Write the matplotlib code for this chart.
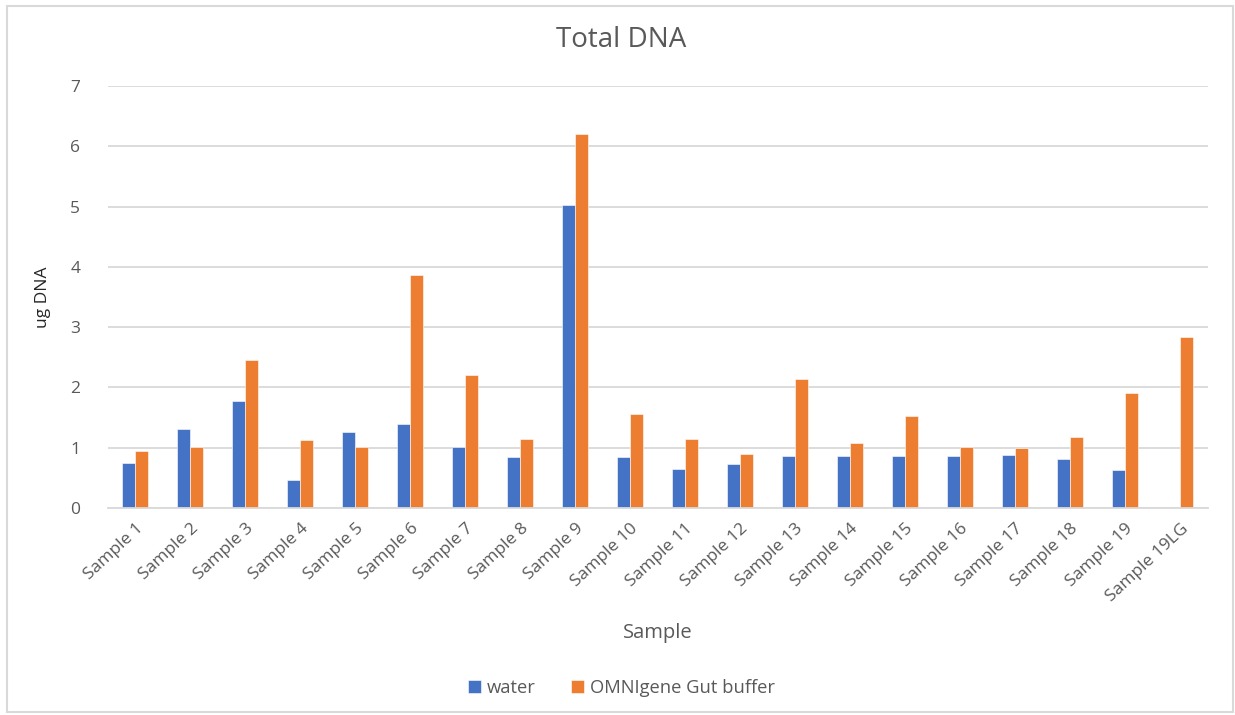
import numpy as np
import matplotlib.pyplot as plt
from matplotlib.patches import Rectangle

plt.rcParams['font.family'] = ['Open Sans', 'DejaVu Sans']

samples = ['Sample 1', 'Sample 2', 'Sample 3', 'Sample 4', 'Sample 5',
           'Sample 6', 'Sample 7', 'Sample 8', 'Sample 9', 'Sample 10',
           'Sample 11', 'Sample 12', 'Sample 13', 'Sample 14', 'Sample 15',
           'Sample 16', 'Sample 17', 'Sample 18', 'Sample 19', 'Sample 19LG']
water = [0.75, 1.31, 1.78, 0.46, 1.26, 1.39, 1.01, 0.84, 5.03, 0.84,
         0.64, 0.73, 0.87, 0.87, 0.86, 0.86, 0.88, 0.81, 0.63, 0]
omni = [0.94, 1.02, 2.45, 1.12, 1.02, 3.87, 2.21, 1.15, 6.21, 1.56,
        1.15, 0.90, 2.14, 1.08, 1.53, 1.02, 0.99, 1.17, 1.91, 2.84]

blue = '#4472c4'
orange = '#ed7d31'
grey = '#595959'
gridc = '#d9d9d9'

fig = plt.figure(figsize=(12.35, 7.15), dpi=100)
ax = fig.add_axes([0.0874, 0.2895, 0.8907, 0.5902])

x = np.arange(len(samples))
w = 0.236
ax.bar(x - w/2, water, w, color=blue, edgecolor='white', linewidth=0.4, label='water')
ax.bar(x + w/2, omni, w, color=orange, edgecolor='white', linewidth=0.4,
       label='OMNIgene Gut buffer')

ax.set_xlim(-0.5, len(samples) - 0.5)
ax.set_ylim(0, 7)
ax.set_yticks(range(0, 8))
ax.yaxis.grid(True, color=gridc, linewidth=1.3)
ax.set_axisbelow(True)
for s in ['top', 'right', 'left']:
    ax.spines[s].set_visible(False)
ax.spines['bottom'].set_color(gridc)
ax.spines['bottom'].set_linewidth(1.3)
ax.tick_params(length=0, colors=grey, labelsize=12.5)
ax.tick_params(axis='y', pad=20)
ax.tick_params(axis='x', pad=9)
ax.set_xticks(x)
ax.set_xticklabels(samples, rotation=43, ha='right', rotation_mode='anchor')
for lbl in ax.get_xticklabels():
    lbl.set_color(grey)

fig.suptitle('Total DNA', fontsize=20, color=grey, x=0.503, y=0.963)
ax.set_ylabel('ug DNA', fontsize=12.5, color='#262626', labelpad=14)
ax.set_xlabel('Sample', fontsize=14.5, color=grey, labelpad=13)

leg = fig.legend(loc='center', bbox_to_anchor=(0.503, 0.038), ncol=2, frameon=False,
                 fontsize=13.2, handlelength=0.75, handleheight=0.75, handletextpad=0.3,
                 columnspacing=1.9)
for t in leg.get_texts():
    t.set_color(grey)

fig.patches.append(Rectangle((0.006, 0.004), 0.992, 0.987, transform=fig.transFigure,
                             fill=False, edgecolor=gridc, linewidth=1.5))

fig.savefig('out.png', dpi=100, facecolor='white')
